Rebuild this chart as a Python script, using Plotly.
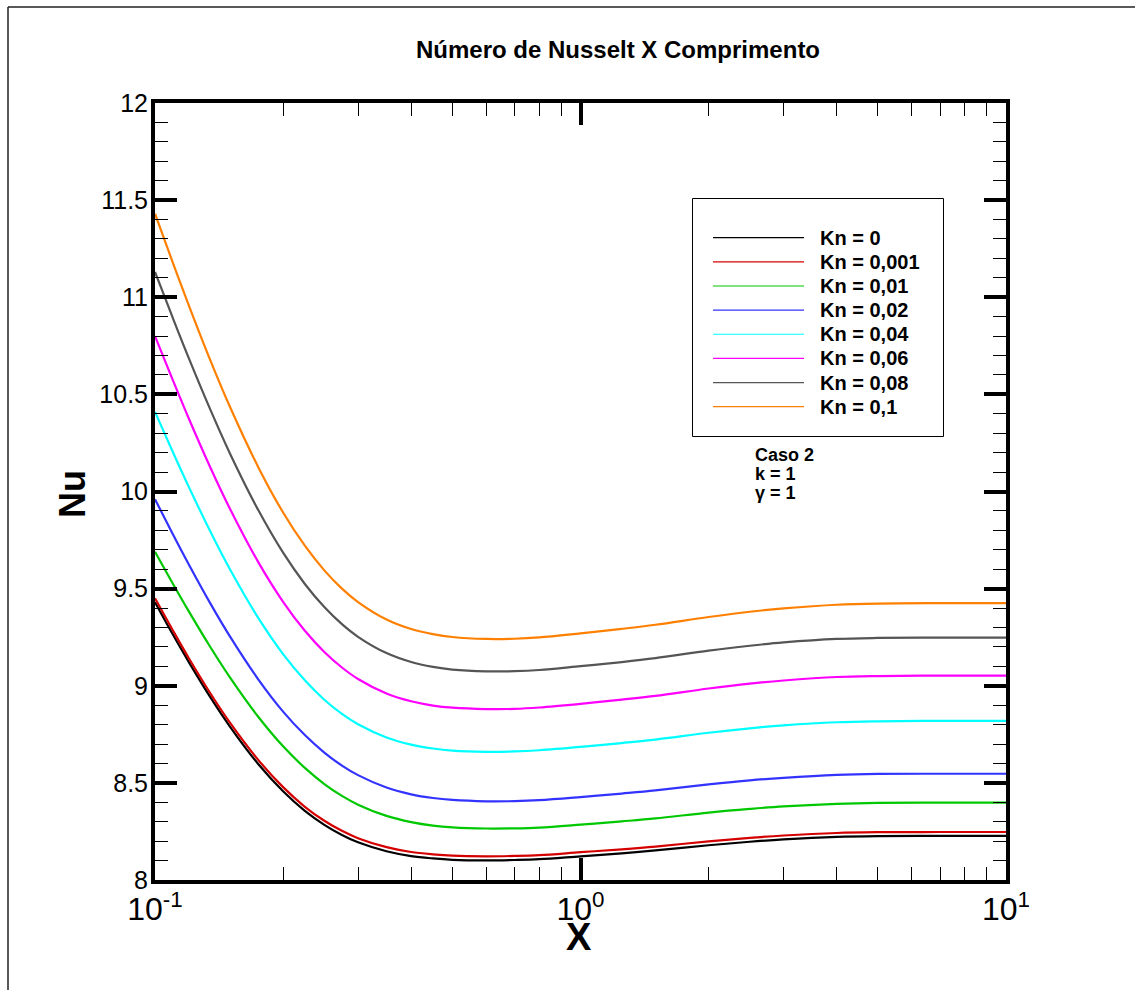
import plotly.graph_objects as go

# Axial position (log scale)
X = [0.1, 0.11, 0.12, 0.135, 0.15, 0.175, 0.2, 0.225, 0.25, 0.275, 0.3, 0.35, 0.4, 0.45,
     0.5, 0.6, 0.7, 0.8, 1, 1.25, 1.5, 2, 2.5, 3, 4, 5, 7, 10]

# Local Nusselt number for each Knudsen number
nu_kn_0 = [9.430, 9.266, 9.123, 8.940, 8.790, 8.596, 8.457, 8.356, 8.284, 8.232, 8.194, 8.148, 8.123, 8.111,
           8.104, 8.101, 8.103, 8.107, 8.122, 8.137, 8.152, 8.179, 8.197, 8.209, 8.222, 8.226, 8.227, 8.227]
nu_kn_0001 = [9.450, 9.287, 9.143, 8.960, 8.810, 8.617, 8.478, 8.377, 8.305, 8.253, 8.215, 8.169, 8.144, 8.132,
              8.125, 8.122, 8.124, 8.128, 8.143, 8.158, 8.172, 8.199, 8.217, 8.229, 8.242, 8.246, 8.247, 8.247]
nu_kn_001 = [9.690, 9.528, 9.384, 9.198, 9.043, 8.839, 8.688, 8.577, 8.494, 8.433, 8.388, 8.330, 8.298, 8.280,
             8.271, 8.265, 8.266, 8.270, 8.285, 8.302, 8.317, 8.347, 8.366, 8.379, 8.392, 8.397, 8.398, 8.398]
nu_kn_002 = [9.960, 9.783, 9.626, 9.423, 9.254, 9.032, 8.867, 8.746, 8.656, 8.589, 8.540, 8.476, 8.441, 8.422,
             8.412, 8.405, 8.406, 8.411, 8.427, 8.445, 8.461, 8.492, 8.513, 8.526, 8.541, 8.546, 8.547, 8.547]
nu_kn_004 = [10.410, 10.206, 10.025, 9.793, 9.600, 9.348, 9.163, 9.028, 8.928, 8.855, 8.802, 8.734, 8.697, 8.677,
             8.666, 8.660, 8.662, 8.668, 8.685, 8.705, 8.723, 8.758, 8.781, 8.796, 8.812, 8.817, 8.819, 8.819]
nu_kn_006 = [10.800, 10.576, 10.377, 10.122, 9.911, 9.635, 9.432, 9.283, 9.174, 9.094, 9.035, 8.960, 8.920, 8.898,
             8.887, 8.880, 8.881, 8.888, 8.907, 8.929, 8.948, 8.986, 9.011, 9.027, 9.045, 9.050, 9.052, 9.052]
nu_kn_008 = [11.130, 10.896, 10.688, 10.420, 10.196, 9.903, 9.685, 9.524, 9.405, 9.317, 9.252, 9.168, 9.122, 9.097,
             9.083, 9.074, 9.075, 9.081, 9.101, 9.122, 9.142, 9.181, 9.206, 9.223, 9.241, 9.246, 9.248, 9.248]
nu_kn_01 = [11.430, 11.181, 10.960, 10.674, 10.436, 10.124, 9.892, 9.721, 9.594, 9.500, 9.431, 9.341, 9.292, 9.266,
            9.251, 9.241, 9.242, 9.249, 9.270, 9.293, 9.314, 9.354, 9.381, 9.398, 9.417, 9.423, 9.425, 9.425]

series_names = ["Kn = 0", "Kn = 0,001", "Kn = 0,01", "Kn = 0,02",
                "Kn = 0,04", "Kn = 0,06", "Kn = 0,08", "Kn = 0,1"]
series_values = [nu_kn_0, nu_kn_0001, nu_kn_001, nu_kn_002,
                 nu_kn_004, nu_kn_006, nu_kn_008, nu_kn_01]
series_colors = ["#000000", "#d40000", "#00c800", "#3333ff",
                 "#00ffff", "#ff00ff", "#555555", "#ff8000"]

x_tick_vals = [0.1, 1, 10]
x_tick_text = ["10<sup>-1</sup>", "10<sup>0</sup>", "10<sup>1</sup>"]
x_minor_vals = [0.2, 0.3, 0.4, 0.5, 0.6, 0.7, 0.8, 0.9, 2, 3, 4, 5, 6, 7, 8, 9]
y_tick_vals = [8, 8.5, 9, 9.5, 10, 10.5, 11, 11.5, 12]
y_tick_text = ["8", "8.5", "9", "9.5", "10", "10.5", "11", "11.5", "12"]

FONT = "Liberation Sans"

# Plot-area geometry in pixels (used to place decorations in paper units)
W, H = 1135, 990
L, R, T, B = 155, 129, 103, 110
PW, PH = W - L - R, H - T - B


def px(xp):
    return (xp - L) / PW


def py(yp):
    return (H - B - yp) / PH


fig = go.Figure()
for name, vals, color in zip(series_names, series_values, series_colors):
    fig.add_trace(go.Scatter(
        x=X, y=vals, mode="lines", name=name, showlegend=False,
        line=dict(color=color, width=2.2, shape="spline", smoothing=1.0),
    ))

shapes = []
annotations = []

# Legend box drawn by hand (long sample lines)
shapes.append(dict(type="rect", xref="paper", yref="paper",
                   x0=px(692.5), x1=px(943.5), y0=py(436.5), y1=py(198.5),
                   line=dict(color="black", width=1), fillcolor="white", layer="above"))
for i, (name, color) in enumerate(zip(series_names, series_colors)):
    yy = py(237.7 + 24.14 * i)
    shapes.append(dict(type="line", xref="paper", yref="paper",
                       x0=px(713), x1=px(804), y0=yy, y1=yy,
                       line=dict(color=color, width=1.2), layer="above"))
    annotations.append(dict(xref="paper", yref="paper", x=px(818), y=yy,
                            xanchor="left", yanchor="middle", showarrow=False,
                            text=f"<b>{name}</b>",
                            font=dict(family=FONT, size=20, color="black")))

# Case description
for txt, yp in [("Caso 2", 455), ("k = 1", 474), ("γ = 1", 493)]:
    annotations.append(dict(xref="paper", yref="paper", x=px(753), y=py(yp),
                            xanchor="left", yanchor="middle", showarrow=False,
                            text=f"<b>{txt}</b>",
                            font=dict(family=FONT, size=18, color="black")))

# Axis titles
annotations.append(dict(xref="paper", yref="paper", x=px(579), y=py(937),
                        xanchor="center", yanchor="middle", showarrow=False,
                        text="<b>X</b>", font=dict(family=FONT, size=38, color="black")))
annotations.append(dict(xref="paper", yref="paper", x=px(72), y=py(494),
                        xanchor="center", yanchor="middle", showarrow=False, textangle=-90,
                        text="<b>Nu</b>", font=dict(family=FONT, size=36, color="black")))

# Outer page frame
shapes.append(dict(type="line", xref="paper", yref="paper",
                   x0=px(8), x1=px(1135), y0=py(7), y1=py(7),
                   line=dict(color="#222222", width=1.5)))
shapes.append(dict(type="line", xref="paper", yref="paper",
                   x0=px(8), x1=px(8), y0=py(7), y1=py(990),
                   line=dict(color="#222222", width=1.5)))

fig.update_layout(
    width=W, height=H,
    margin=dict(l=L, r=R, t=T, b=B),
    paper_bgcolor="white", plot_bgcolor="white",
    title=dict(text="<b>Número de Nusselt X Comprimento</b>",
               x=618 / W, xref="container", xanchor="center",
               y=1 - 50 / H, yref="container", yanchor="middle",
               font=dict(family=FONT, size=24, color="black")),
    shapes=shapes, annotations=annotations,
    showlegend=False,
)

fig.update_xaxes(
    type="log", range=[-1, 1],
    tickmode="array", tickvals=x_tick_vals, ticktext=x_tick_text,
    ticks="inside", ticklen=22, tickwidth=4, tickcolor="black",
    showline=True, linewidth=4, linecolor="black", mirror="ticks",
    showgrid=False, zeroline=False,
    tickfont=dict(family=FONT, size=32, color="black"),
    ticklabelstandoff=-2,
    minor=dict(tickmode="array", tickvals=x_minor_vals, ticks="inside",
               ticklen=13, tickwidth=1, tickcolor="black", showgrid=False),
)
fig.update_yaxes(
    range=[8, 12],
    tickmode="array", tickvals=y_tick_vals, ticktext=y_tick_text,
    ticks="inside", ticklen=22, tickwidth=4, tickcolor="black",
    showline=True, linewidth=4, linecolor="black", mirror="ticks",
    showgrid=False, zeroline=False,
    tickfont=dict(family=FONT, size=25, color="black"),
    ticklabelstandoff=-2,
    minor=dict(dtick=0.1, ticks="inside", ticklen=13, tickwidth=1,
               tickcolor="black", showgrid=False),
)

fig.write_html("out.html")
